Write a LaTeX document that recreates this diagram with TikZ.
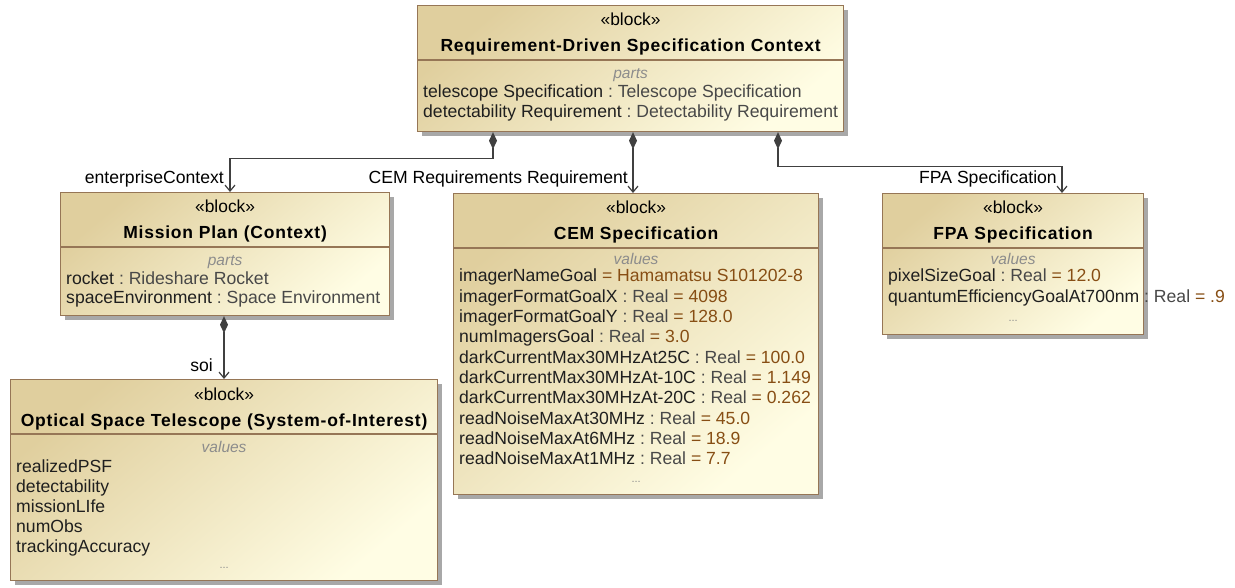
\documentclass[tikz,border=0pt]{standalone}
\usepackage{fontspec}
\setmainfont{Liberation Sans}
\newfontfamily\titlefont[LetterSpace=4.5]{Liberation Sans}
\usetikzlibrary{arrows.meta,shadows,calc}

\definecolor{blkdark}{RGB}{224,207,158}
\definecolor{blklight}{RGB}{255,253,228}
\definecolor{blkborder}{RGB}{150,118,86}
\definecolor{shadowgray}{RGB}{168,168,168}
\definecolor{linegray}{RGB}{64,64,64}
\definecolor{typegray}{RGB}{72,72,72}
\definecolor{valbrown}{RGB}{135,78,20}
\definecolor{compgray}{RGB}{140,140,140}

% name : type = value
\newcommand{\ptype}[1]{\ \textcolor{typegray}{:\ #1}}
\newcommand{\pval}[1]{\ \textcolor{valbrown}{=\ #1}}

\tikzset{
  blk/.style={draw=blkborder, line width=1.2pt, top color=blkdark, bottom color=blklight,
    shading angle=40, anchor=north west, inner sep=0pt,
    drop shadow={shadow xshift=4pt, shadow yshift=-4pt, fill=shadowgray, opacity=1}},
  stereo/.style={anchor=base, inner sep=0pt, font=\fontsize{17.4}{20}\selectfont},
  blktitle/.style={anchor=base, inner sep=0pt, font=\fontsize{17.5}{20}\selectfont\titlefont\bfseries},
  comp/.style={anchor=base, inner sep=0pt, text=compgray, font=\fontsize{15.5}{18}\selectfont\itshape},
  attr/.style={anchor=base west, inner sep=0pt, text=black!88, font=\fontsize{17.6}{20}\selectfont},
  more/.style={anchor=base, inner sep=0pt, text=compgray, font=\fontsize{11}{12}\selectfont},
  divider/.style={draw=blkborder, line width=1.2pt},
  conn/.style={draw=linegray, line width=1.2pt,
    {Diamond[length=17pt,width=8pt]}-{Straight Barb[length=6pt,width=10pt]}},
  role/.style={anchor=base east, inner sep=0pt, font=\fontsize{17.6}{20}\selectfont}
}

\begin{document}
\begin{tikzpicture}[x=1pt,y=-1pt]
  \useasboundingbox (0,0) rectangle (1235,588);
  \fill[white] (0,0) rectangle (1235,588);

  % Blocks
  \node[blk, minimum width=426pt, minimum height=126pt] (ctx) at (417,5) {};
  \node[blk, minimum width=329pt, minimum height=123pt] (mission) at (60,192) {};
  \node[blk, minimum width=365pt, minimum height=301pt] (cem) at (453,193) {};
  \node[blk, minimum width=261pt, minimum height=141pt] (fpa) at (882,193) {};
  \node[blk, minimum width=427pt, minimum height=201pt] (ost) at (10,379) {};

  % Headers
  \foreach \b/\t in {ctx/Requirement-Driven Specification Context,
                     mission/Mission Plan (Context),
                     cem/CEM Specification,
                     fpa/FPA Specification,
                     ost/Optical Space Telescope (System-of-Interest)} {
    \node[stereo] (\b-st) at ($(\b.north)+(0,21)$) {«block»};
    \node[blktitle] (\b-name) at ($(\b.north)+(0,47)$) {\t};
    \draw[divider] ($(\b.north west)+(0,55)$) -- ($(\b.north east)+(0,55)$);
  }

  % Compartments
  \node[comp] (ctx-parts) at ($(ctx.north)+(0,74)$) {parts};
  \foreach \t [count=\i from 0] in {telescope Specification\ptype{Telescope Specification},
                                    detectability Requirement\ptype{Detectability Requirement}}
    \node[attr] (ctx-p\i) at ($(ctx.north west)+(6,93+19.5*\i)$) {\t};

  \node[comp] (mission-parts) at ($(mission.north)+(0,74)$) {parts};
  \foreach \t [count=\i from 0] in {rocket\ptype{Rideshare Rocket},
                                    spaceEnvironment\ptype{Space Environment}}
    \node[attr] (mission-p\i) at ($(mission.north west)+(6,92+19.5*\i)$) {\t};

  \node[comp] (cem-values) at ($(cem.north)+(0,72)$) {values};
  \foreach \t [count=\i from 0] in {imagerNameGoal\pval{Hamamatsu S101202-8},
                                    imagerFormatGoalX\ptype{Real}\pval{4098},
                                    imagerFormatGoalY\ptype{Real}\pval{128.0},
                                    numImagersGoal\ptype{Real}\pval{3.0},
                                    darkCurrentMax30MHzAt25C\ptype{Real}\pval{100.0},
                                    darkCurrentMax30MHzAt-10C\ptype{Real}\pval{1.149},
                                    darkCurrentMax30MHzAt-20C\ptype{Real}\pval{0.262},
                                    readNoiseMaxAt30MHz\ptype{Real}\pval{45.0},
                                    readNoiseMaxAt6MHz\ptype{Real}\pval{18.9},
                                    readNoiseMaxAt1MHz\ptype{Real}\pval{7.7}}
    \node[attr] (cem-v\i) at ($(cem.north west)+(6,89+20.3*\i)$) {\t};
  \node[more] (cem-more) at ($(cem.north)+(0,289)$) {...};

  \node[comp] (fpa-values) at ($(fpa.north)+(0,72)$) {values};
  \foreach \t [count=\i from 0] in {pixelSizeGoal\ptype{Real}\pval{12.0},
                                    quantumEfficiencyGoalAt700nm\ptype{Real}\pval{.9}}
    \node[attr] (fpa-v\i) at ($(fpa.north west)+(6,89+20*\i)$) {\t};
  \node[more] (fpa-more) at ($(fpa.north)+(0,129)$) {...};

  \node[comp] (ost-values) at ($(ost.north)+(0,73)$) {values};
  \foreach \t [count=\i from 0] in {realizedPSF, detectability, missionLIfe, numObs, trackingAccuracy}
    \node[attr] (ost-v\i) at ($(ost.north west)+(6,93+20*\i)$) {\t};
  \node[more] (ost-more) at ($(ost.north)+(0,189)$) {...};

  % Part connectors
  \draw[conn] ([xshift=76pt]ctx.south west) -- ++(0,26) -| ([xshift=170pt]mission.north west);
  \draw[conn] ([xshift=216pt]ctx.south west) -- ([xshift=180pt]cem.north west);
  \draw[conn] ([xshift=361pt]ctx.south west) -- ++(0,34) -| ([xshift=180pt]fpa.north west);
  \draw[conn] ([xshift=164pt]mission.south west) -- ([xshift=214pt]ost.north west);

  % Role names
  \node[role] (r-env) at ($(mission.north west)+(164,-8)$) {enterpriseContext};
  \node[role] (r-cem) at ($(cem.north west)+(175,-9)$) {CEM Requirements Requirement};
  \node[role] (r-fpa) at ($(fpa.north west)+(175,-9)$) {FPA Specification};
  \node[role] (r-soi) at ($(ost.north west)+(203,-8)$) {soi};
\end{tikzpicture}
\end{document}
